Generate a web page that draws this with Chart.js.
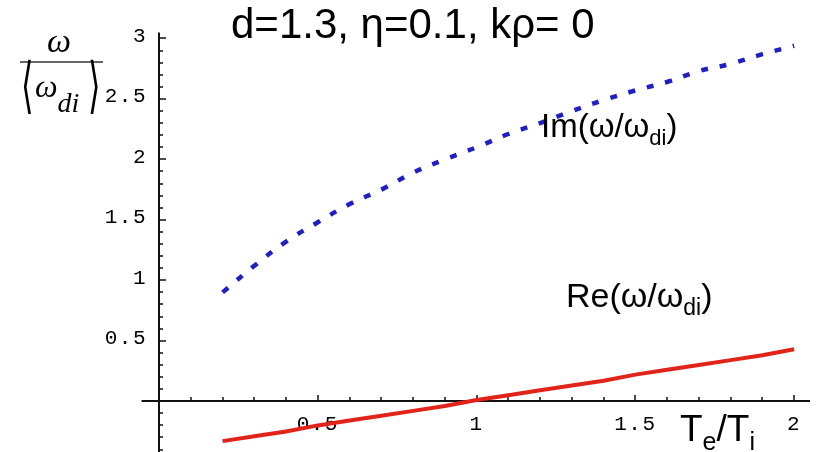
<!DOCTYPE html>
<html>
<head>
<meta charset="utf-8">
<script src="https://cdn.jsdelivr.net/npm/chart.js@4.4.1/dist/chart.umd.min.js"></script>
<style>
  html, body { margin: 0; padding: 0; background: #fff; }
  #wrap { width: 816px; height: 452px; position: relative; }
</style>
</head>
<body>
<div id="wrap"><canvas id="growthChart"></canvas></div>
<script>
// Te/Ti sweep and the normalised mode frequency
const teOverTi = [0.2, 0.3, 0.4, 0.5, 0.6, 0.7, 0.8, 0.9, 1.0, 1.1, 1.2, 1.3, 1.4, 1.5, 1.6, 1.7, 1.8, 1.9, 2.0];
const imOmega = [0.90, 1.12, 1.32, 1.48, 1.63, 1.75, 1.89, 2.00, 2.10, 2.21, 2.30, 2.40, 2.49, 2.57, 2.64, 2.73, 2.79, 2.87, 2.94];
const reOmega = [-0.33, -0.29, -0.25, -0.20, -0.16, -0.12, -0.08, -0.04, 0.01, 0.05, 0.09, 0.13, 0.17, 0.22, 0.26, 0.30, 0.34, 0.38, 0.43];

const xTickValues = [0.5, 1, 1.5, 2];
const xTickLabels = ['0.5', '1', '1.5', '2'];
const yTickValues = [0.5, 1, 1.5, 2, 2.5, 3];
const yTickLabels = ['0.5', '1', '1.5', '2', '2.5', '3'];

const sans = '"Liberation Sans", Arial, Helvetica, sans-serif';
const serif = '"Liberation Serif", "Times New Roman", serif';
const mono = '"Liberation Mono", "Courier New", monospace';

// draws a run of text pieces left to right, each with its own size / offset
function drawRun(ctx, pieces, x, y) {
  let cx = x;
  pieces.forEach(p => {
    ctx.font = p.font;
    ctx.fillText(p.t, cx, y + (p.dy || 0));
    cx += ctx.measureText(p.t).width;
  });
}

// crossed axes through the origin, ticks drawn inward like the old plot style
const crossedAxes = {
  id: 'crossedAxes',
  beforeDatasetsDraw(chart) {
    const { ctx, scales: { x, y } } = chart;
    const x0 = Math.round(x.getPixelForValue(0));
    const y0 = Math.round(y.getPixelForValue(0));
    ctx.save();
    ctx.strokeStyle = '#111';
    ctx.lineWidth = 2;
    ctx.beginPath();
    ctx.moveTo(x.getPixelForValue(-0.055), y0);
    ctx.lineTo(x.right, y0);
    ctx.moveTo(x0, y.getPixelForValue(3.05));
    ctx.lineTo(x0, y.bottom);
    ctx.stroke();

    ctx.lineWidth = 1.5;
    ctx.beginPath();
    for (let i = 1; i <= 20; i++) {
      const px = Math.round(x.getPixelForValue(i / 10));
      const len = i % 5 === 0 ? 6 : 4;
      ctx.moveTo(px, y0);
      ctx.lineTo(px, y0 - len);
    }
    for (let j = -4; j <= 30; j++) {
      if (j === 0) continue;
      const py = Math.round(y.getPixelForValue(j / 10));
      const len = j % 5 === 0 ? 7 : 4;
      ctx.moveTo(x0, py);
      ctx.lineTo(x0 + len, py);
    }
    ctx.stroke();

    ctx.fillStyle = '#000';
    ctx.font = '21px ' + mono;
    ctx.letterSpacing = '1.5px';
    ctx.textBaseline = 'middle';
    ctx.textAlign = 'center';
    xTickValues.forEach((v, i) => {
      ctx.fillText(xTickLabels[i], x.getPixelForValue(v), y0 + 23);
    });
    ctx.textAlign = 'right';
    yTickValues.forEach((v, i) => {
      ctx.fillText(yTickLabels[i], x0 - 12, y.getPixelForValue(v) - 2);
    });
    ctx.restore();
  },
  afterDraw(chart) {
    const { ctx } = chart;
    ctx.save();
    ctx.fillStyle = '#000';
    ctx.textBaseline = 'alphabetic';
    ctx.textAlign = 'left';

    ctx.font = '42px ' + sans;
    ctx.fillText('d=1.3, \u03b7=0.1, k\u03c1= 0', 231, 38);

    drawRun(ctx, [
      { t: 'Im(\u03c9/\u03c9', font: '33px ' + sans },
      { t: 'di', font: '22px ' + sans, dy: 8 },
      { t: ')', font: '33px ' + sans }
    ], 541, 137);

    drawRun(ctx, [
      { t: 'Re(\u03c9/\u03c9', font: '34px ' + sans },
      { t: 'di', font: '23px ' + sans, dy: 8 },
      { t: ')', font: '34px ' + sans }
    ], 566, 307);

    drawRun(ctx, [
      { t: 'T', font: '37px ' + sans },
      { t: 'e', font: '25px ' + sans, dy: 9 },
      { t: '/T', font: '37px ' + sans },
      { t: 'i', font: '25px ' + sans, dy: 9 }
    ], 680, 441);

    // vertical axis label: omega over <omega_di>
    ctx.textAlign = 'center';
    ctx.font = 'italic 34px ' + serif;
    ctx.fillText('\u03c9', 59, 52);
    ctx.strokeStyle = '#333';
    ctx.lineWidth = 1.5;
    ctx.beginPath();
    ctx.moveTo(20, 62);
    ctx.lineTo(103, 62);
    ctx.stroke();

    ctx.save();
    ctx.translate(0, 112);
    ctx.scale(1, 1.9);
    ctx.font = '32px ' + serif;
    ctx.fillText('\u27e8', 27, -3);
    ctx.fillText('\u27e9', 94, -3);
    ctx.restore();

    ctx.textAlign = 'left';
    drawRun(ctx, [
      { t: '\u03c9', font: 'italic 32px ' + serif },
      { t: 'di', font: 'italic 28px ' + serif, dy: 15 }
    ], 35, 97);
    ctx.restore();
  }
};

new Chart(document.getElementById('growthChart'), {
  type: 'line',
  data: {
    labels: teOverTi,
    datasets: [
      {
        label: 'Im(\u03c9/\u03c9di)',
        data: teOverTi.map((t, i) => ({ x: t, y: imOmega[i] })),
        borderColor: '#1f1fc4',
        borderWidth: 4.5,
        borderDash: [7, 12],
        borderCapStyle: 'butt',
        pointRadius: 0,
        tension: 0.4,
        fill: false
      },
      {
        label: 'Re(\u03c9/\u03c9di)',
        data: teOverTi.map((t, i) => ({ x: t, y: reOmega[i] })),
        borderColor: '#e2231a',
        borderWidth: 4,
        pointRadius: 0,
        tension: 0,
        fill: false
      }
    ]
  },
  options: {
    responsive: true,
    maintainAspectRatio: false,
    animation: false,
    layout: { padding: { left: 140, right: 6, top: 30, bottom: 0 } },
    plugins: { legend: { display: false }, tooltip: { enabled: false } },
    scales: {
      x: { type: 'linear', min: -0.06, max: 2.05, display: false },
      y: { type: 'linear', min: -0.42, max: 3.07, display: false }
    }
  },
  plugins: [crossedAxes]
});
</script>
</body>
</html>
